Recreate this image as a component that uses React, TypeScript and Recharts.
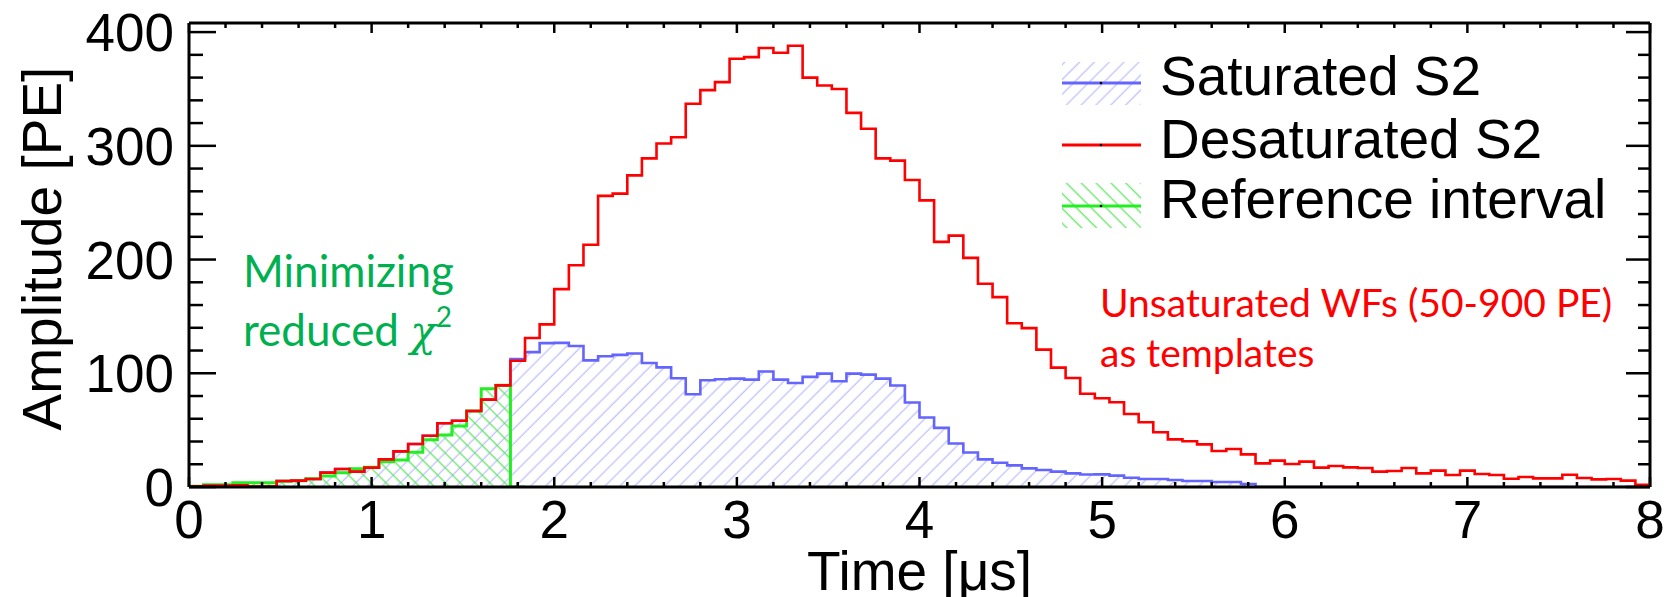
import React from 'react';
import { ComposedChart, Area, Line, XAxis, YAxis, ReferenceLine, Legend } from 'recharts';

// ---- data (bin width 0.08 us, 100 bins from 0 to 8 us) ----
const BIN_WIDTH = 0.08;

const SATURATED = [
  0.6, 1.2, 1.2, 1.5, 0.5, 0.5, 5.3, 5.6, 7.0, 12.6,
  15.8, 13.5, 17.0, 24.3, 31.3, 37.8, 45.0, 56.0, 58.3, 66.8,
  76.8, 89.4, 112.5, 118.6, 126.5, 126.7, 124.0, 111.3, 115.0, 116.2,
  117.4, 109.0, 105.2, 95.6, 81.6, 93.9, 94.7, 95.3, 94.4, 101.5,
  94.4, 91.5, 96.8, 99.7, 93.0, 99.7, 98.8, 95.3, 89.2, 74.3,
  61.1, 52.0, 38.3, 30.4, 24.3, 21.3, 19.0, 16.4, 14.9, 13.5,
  12.0, 11.0, 11.1, 10.0, 8.2, 7.0, 7.0, 6.2, 5.3, 5.3,
  4.4, 4.4, 2.6, 0, 0, 0, 0, 0, 0, 0,
  0, 0, 0, 0, 0, 0, 0, 0, 0, 0,
  0, 0, 0, 0, 0, 0, 0, 0, 0, 0,
];

const DESATURATED = [
  0.6, 1.2, 1.2, 1.5, 0.5, 0.5, 5.3, 5.6, 7.0, 12.6,
  15.8, 13.5, 17.0, 24.3, 31.3, 37.8, 45.0, 56.0, 58.3, 66.8,
  76.8, 89.4, 111.0, 131.0, 143.0, 174.0, 195.0, 213.0, 256.0, 258.0,
  274.0, 289.0, 302.0, 307.6, 337.0, 349.0, 356.0, 376.6, 378.0, 386.0,
  381.8, 388.0, 360.0, 353.0, 350.0, 329.0, 315.0, 289.0, 287.0, 270.0,
  252.0, 215.5, 221.0, 201.5, 178.7, 167.0, 144.0, 139.7, 120.8, 105.0,
  95.9, 82.0, 78.0, 74.5, 64.2, 56.9, 48.1, 41.9, 40.2, 37.5,
  31.7, 33.4, 28.7, 20.8, 23.2, 20.2, 22.3, 17.0, 18.5, 17.3,
  16.7, 13.5, 14.1, 16.7, 12.0, 14.4, 10.6, 14.4, 11.4, 10.6,
  7.3, 8.8, 7.6, 7.6, 10.8, 7.9, 6.7, 7.0, 5.6, 2.0,
];

const REFERENCE = [
  0.6, 2.0, 2.0, 3.8, 3.8, 3.8, 5.0, 5.6, 7.3, 9.7,
  12.6, 16.1, 17.3, 22.3, 23.8, 30.6, 41.6, 45.7, 53.6, 66.8,
  86.5, 89.4,
];

const X_MAJOR_TICKS = [0, 1, 2, 3, 4, 5, 6, 7, 8];
const X_MINOR_OFFSETS = [0.2, 0.4, 0.6, 0.8];
const Y_TICKS = [0, 20, 40, 60, 80, 100, 120, 140, 160, 180, 200, 220, 240, 260, 280, 300, 320, 340, 360, 380, 400];
const Y_MAX = 408;
const X_MAX = 8;

const LEGEND_ITEMS = ['Saturated S2', 'Desaturated S2', 'Reference interval'];

// ---- layout ----
const W = 1670;
const H = 597;
const PLOT_LEFT = 189;
const PLOT_RIGHT = 1650;
const PLOT_TOP = 23;
const PLOT_BOTTOM = 487;
const AXIS_FONT = "'Liberation Sans', Arial, Helvetica, sans-serif";
const NOTE_FONT = "Lato, 'Open Sans', sans-serif";

const X_TICKS = X_MAJOR_TICKS.flatMap((m, i) =>
  i < X_MAJOR_TICKS.length - 1 ? [m, ...X_MINOR_OFFSETS.map((o) => Math.round((m + o) * 10) / 10)] : [m]
);

const rows = Array.from({ length: SATURATED.length + 1 }, (_, i) => ({
  t: Math.round(i * BIN_WIDTH * 100) / 100,
  sat: i < SATURATED.length ? SATURATED[i] : 0,
  des: i < DESATURATED.length ? DESATURATED[i] : 0,
  ref: i < REFERENCE.length ? REFERENCE[i] : i <= REFERENCE.length + 1 ? 0 : null,
}));

const XTick = (props: any) => {
  const { x, payload } = props;
  const v = payload.value;
  const major = Math.abs(v - Math.round(v)) < 1e-6;
  const len = major ? 10 : 5;
  return (
    <g>
      <line x1={x} x2={x} y1={PLOT_BOTTOM} y2={PLOT_BOTTOM - len} stroke="#000" strokeWidth={2.5} />
      <line x1={x} x2={x} y1={PLOT_TOP} y2={PLOT_TOP + len} stroke="#000" strokeWidth={2.5} />
      {major && (
        <text x={x} y={PLOT_BOTTOM + 51} textAnchor="middle" fontSize={53} fontFamily={AXIS_FONT} fill="#000">
          {Math.round(v)}
        </text>
      )}
    </g>
  );
};

const YTick = (props: any) => {
  const { y, payload } = props;
  const v = payload.value;
  const major = v % 100 === 0;
  return (
    <g>
      <line x1={PLOT_LEFT} x2={PLOT_LEFT + (major ? 27 : 14)} y1={y} y2={y} stroke="#000" strokeWidth={2.5} />
      <line x1={PLOT_RIGHT} x2={PLOT_RIGHT - (major ? 24 : 12)} y1={y} y2={y} stroke="#000" strokeWidth={2.5} />
      {major && (
        <text x={PLOT_LEFT - 15} y={y + 19} textAnchor="end" fontSize={53} fontFamily={AXIS_FONT} fill="#000">
          {v}
        </text>
      )}
    </g>
  );
};

const LegendContent = () => (
  <svg width={610} height={200} style={{ overflow: 'visible' }}>
    <defs>
      <pattern id="legHatchBlue" patternUnits="userSpaceOnUse" width="10.5" height="10.5" patternTransform="rotate(45)">
        <line x1="5" y1="0" x2="5" y2="10.5" stroke="#bcbcff" strokeWidth="1.2" />
      </pattern>
      <pattern id="legHatchGreen" patternUnits="userSpaceOnUse" width="10.5" height="10.5" patternTransform="rotate(-45)">
        <line x1="5" y1="0" x2="5" y2="10.5" stroke="#55e855" strokeWidth="1.2" />
      </pattern>
    </defs>
    {/* Saturated */}
    <rect x={12} y={22} width={79} height={43} fill="url(#legHatchBlue)" />
    <line x1={12} x2={91} y1={43} y2={43} stroke="#6464ff" strokeWidth={3} />
    <circle cx={51} cy={43} r={1.3} fill="#000" />
    <text x={110} y={55} fontSize={55} fontFamily={AXIS_FONT} fill="#000">{LEGEND_ITEMS[0]}</text>
    {/* Desaturated */}
    <line x1={12} x2={91} y1={105} y2={105} stroke="#ff0000" strokeWidth={3} />
    <circle cx={51} cy={105} r={1.3} fill="#000" />
    <text x={110} y={118} fontSize={55} fontFamily={AXIS_FONT} fill="#000">{LEGEND_ITEMS[1]}</text>
    {/* Reference */}
    <rect x={12} y={143} width={79} height={45} fill="url(#legHatchGreen)" />
    <line x1={12} x2={91} y1={166} y2={166} stroke="#22ee22" strokeWidth={3} />
    <circle cx={51} cy={166} r={1.3} fill="#000" />
    <text x={110} y={178} fontSize={55} fontFamily={AXIS_FONT} fill="#000">{LEGEND_ITEMS[2]}</text>
  </svg>
);

export default function App() {
  return (
    <div style={{ position: 'absolute', left: 0, top: 0, width: W, height: H, background: '#fff' }}>
      <ComposedChart width={W} height={H} data={rows} margin={{ top: PLOT_TOP, right: W - PLOT_RIGHT, bottom: 0, left: 0 }}>
        <defs>
          <pattern id="hatchBlue" patternUnits="userSpaceOnUse" width="10.5" height="10.5" patternTransform="rotate(45)">
            <line x1="5" y1="0" x2="5" y2="10.5" stroke="#bcbcff" strokeWidth="1.2" />
          </pattern>
          <pattern id="hatchGreen" patternUnits="userSpaceOnUse" width="10.5" height="10.5" patternTransform="rotate(-45)">
            <line x1="5" y1="0" x2="5" y2="10.5" stroke="#55e855" strokeWidth="1.2" />
          </pattern>
        </defs>
        <XAxis
          dataKey="t"
          type="number"
          domain={[0, X_MAX]}
          ticks={X_TICKS}
          interval={0}
          tickSize={0}
          tickMargin={0}
          tickLine={false}
          tick={(p: any) => <XTick {...p} />}
          height={H - PLOT_BOTTOM}
          axisLine={{ stroke: '#000', strokeWidth: 3 }}
          allowDataOverflow
          label={(p: any) => (
            <text x={(PLOT_LEFT + PLOT_RIGHT) / 2} y={590} textAnchor="middle" fontSize={55} fontFamily={AXIS_FONT} fill="#000">
              Time [μs]
            </text>
          )}
        />
        <YAxis
          type="number"
          domain={[0, Y_MAX]}
          ticks={Y_TICKS}
          interval={0}
          tickSize={0}
          tickMargin={0}
          tickLine={false}
          tick={(p: any) => <YTick {...p} />}
          width={PLOT_LEFT}
          axisLine={{ stroke: '#000', strokeWidth: 3 }}
          allowDataOverflow
          label={(p: any) => (
            <text transform="translate(61,248.5) rotate(-90)" textAnchor="middle" fontSize={55} fontFamily={AXIS_FONT} fill="#000">
              Amplitude [PE]
            </text>
          )}
        />
        <ReferenceLine x={X_MAX} stroke="#000" strokeWidth={3} />
        <ReferenceLine y={Y_MAX} stroke="#000" strokeWidth={3} />
        <Line dataKey="des" type="stepAfter" stroke="#ff0000" strokeWidth={2.6} dot={false} activeDot={false} isAnimationActive={false} />
        <Area dataKey="sat" type="stepAfter" stroke="#6464ff" strokeWidth={2.6} fill="url(#hatchBlue)" fillOpacity={1} dot={false} activeDot={false} isAnimationActive={false} />
        <Area dataKey="ref" type="stepAfter" stroke="#22ee22" strokeWidth={3} fill="url(#hatchGreen)" fillOpacity={1} dot={false} activeDot={false} isAnimationActive={false} />
        <Legend
          layout="vertical"
          align="center"
          verticalAlign="middle"
          content={() => <LegendContent />}
          wrapperStyle={{ left: 1050, top: 40, width: 610, height: 200 }}
        />
        <text x={243} y={287} fontSize={44} fontFamily={NOTE_FONT} fill="#00b050">Minimizing</text>
        <text x={243} y={346} fontSize={44} fontFamily={NOTE_FONT} fill="#00b050">
          reduced{' '}
          <tspan fontStyle="italic" fontFamily="'DejaVu Serif', serif" fontSize={42}>χ</tspan>
          <tspan dy={-19} fontSize={28}>2</tspan>
        </text>
        <text x={1100} y={317} fontSize={39} fontFamily={NOTE_FONT} fill="#ff0000">Unsaturated WFs (50-900 PE)</text>
        <text x={1100} y={367} fontSize={39} fontFamily={NOTE_FONT} fill="#ff0000">as templates</text>
      </ComposedChart>
    </div>
  );
}
